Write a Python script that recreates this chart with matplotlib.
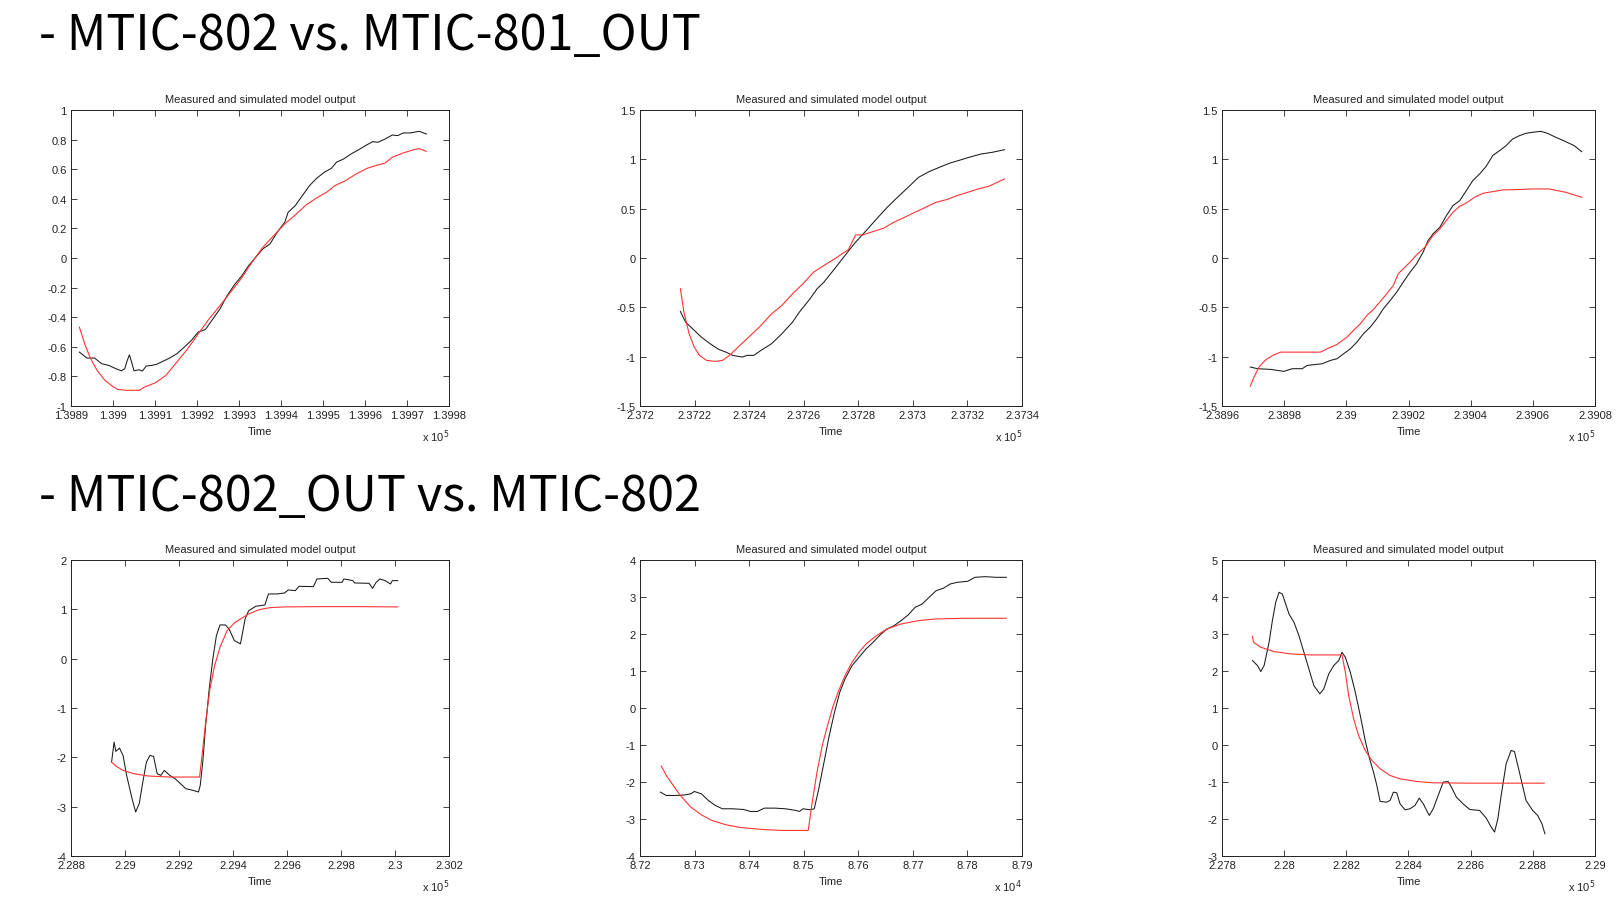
import numpy as np
import matplotlib
matplotlib.use('Agg')
from matplotlib import pyplot as plt
from matplotlib.ticker import FuncFormatter

plt.rcParams['font.family'] = ['Liberation Sans', 'DejaVu Sans']

TITLE = 'Measured and simulated model output'
HEAD1 = '- MTIC-802 vs. MTIC-801_OUT'
HEAD2 = '- MTIC-802_OUT vs. MTIC-802'

# ---- panel 1 : MTIC-802 vs MTIC-801_OUT (a) ----
t1_meas = [139892.0, 139893.8, 139895.6, 139897.3, 139899.0, 139900.7, 139902.0, 139902.8, 139903.3,
           139903.9, 139904.4, 139905.0, 139906.2, 139907.0, 139907.9, 139909.2, 139910.5, 139911.8,
           139913.5, 139915.2, 139916.9, 139918.6, 139920.3, 139922.0, 139923.8, 139925.5, 139927.2,
           139928.9, 139930.6, 139932.3, 139934.0, 139935.7, 139937.4, 139939.1, 139940.9, 139941.7,
           139943.4, 139945.1, 139946.8, 139948.5, 139950.3, 139952.0, 139953.2, 139954.9, 139956.7,
           139958.4, 139960.1, 139961.8, 139963.1, 139964.8, 139966.5, 139967.8, 139969.1, 139970.8,
           139972.9, 139974.6]
y1_meas = [-0.636, -0.676, -0.676, -0.714, -0.726, -0.748, -0.762, -0.748, -0.700,
           -0.654, -0.700, -0.762, -0.755, -0.764, -0.730, -0.726, -0.717, -0.699,
           -0.676, -0.647, -0.604, -0.559, -0.500, -0.483, -0.411, -0.343, -0.253,
           -0.181, -0.123, -0.051, 0.006, 0.062, 0.096, 0.174, 0.242, 0.309,
           0.354, 0.422, 0.489, 0.539, 0.579, 0.606, 0.647, 0.669, 0.703,
           0.730, 0.759, 0.786, 0.782, 0.804, 0.831, 0.827, 0.845, 0.845,
           0.856, 0.838]
t1_sim = [139892.0, 139893.4, 139894.7, 139896.2, 139898.1, 139899.8, 139901.1, 139903.2, 139906.2,
          139907.5, 139910.1, 139912.6, 139915.2, 139917.8, 139920.3, 139922.9, 139925.5, 139928.0,
          139930.6, 139933.2, 139935.7, 139938.3, 139940.9, 139943.4, 139946.0, 139948.5, 139951.1,
          139952.8, 139955.4, 139957.9, 139960.5, 139963.1, 139964.8, 139966.5, 139969.1, 139971.6,
          139972.9, 139974.6]
y1_sim = [-0.467, -0.591, -0.681, -0.759, -0.827, -0.865, -0.888, -0.894, -0.894,
          -0.872, -0.843, -0.793, -0.703, -0.613, -0.512, -0.411, -0.321, -0.231,
          -0.136, -0.024, 0.073, 0.152, 0.231, 0.291, 0.359, 0.406, 0.449,
          0.489, 0.523, 0.568, 0.606, 0.629, 0.642, 0.681, 0.710, 0.732,
          0.739, 0.721]

# ---- panel 2 ----
t2_meas = [237214.8, 237216.7, 237219.9, 237222.5, 237225.7, 237228.9, 237231.5, 237234.0, 237237.5,
           237239.2, 237241.7, 237244.3, 237248.2, 237252.0, 237255.9, 237258.4, 237262.3, 237264.9,
           237267.4, 237271.3, 237275.1, 237279.0, 237282.9, 237286.7, 237290.6, 237294.4, 237298.3,
           237302.1, 237306.0, 237309.8, 237313.7, 237317.5, 237321.4, 237325.2, 237329.1, 237333.6]
y2_meas = [-0.542, -0.650, -0.734, -0.802, -0.869, -0.927, -0.954, -0.987, -1.004,
           -0.987, -0.987, -0.937, -0.869, -0.768, -0.650, -0.549, -0.414, -0.312,
           -0.245, -0.110, 0.025, 0.160, 0.278, 0.396, 0.514, 0.616, 0.717,
           0.818, 0.876, 0.920, 0.963, 0.994, 1.027, 1.055, 1.071, 1.098]
t2_sim = [237214.8, 237216.1, 237218.0, 237219.9, 237221.8, 237224.4, 237227.6, 237230.2, 237232.8,
          237236.6, 237240.5, 237244.3, 237248.2, 237252.0, 237255.9, 237259.7, 237263.6, 237267.4,
          237271.3, 237276.4, 237278.0, 237279.0, 237281.6, 237285.4, 237289.3, 237293.1, 237297.0,
          237300.8, 237304.7, 237308.5, 237312.4, 237316.3, 237320.1, 237324.0, 237327.8, 237331.0,
          237333.6]
y2_sim = [-0.312, -0.549, -0.768, -0.903, -0.987, -1.038, -1.048, -1.038, -0.987,
          -0.886, -0.785, -0.684, -0.566, -0.481, -0.363, -0.262, -0.144, -0.076,
          -0.009, 0.086, 0.177, 0.234, 0.234, 0.268, 0.302, 0.363, 0.413,
          0.464, 0.514, 0.565, 0.592, 0.633, 0.666, 0.700, 0.727, 0.768,
          0.801]

# ---- panel 3 ----
t3_meas = [238969.1, 238971.4, 238975.7, 238979.9, 238982.6, 238985.8, 238987.4, 238992.2, 238994.9,
           238997.0, 238999.1, 239001.3, 239003.4, 239005.5, 239007.7, 239009.8, 239011.9, 239014.1,
           239016.2, 239018.3, 239020.5, 239022.6, 239024.7, 239026.3, 239027.9, 239030.1, 239032.2,
           239034.3, 239036.5, 239038.6, 239040.7, 239042.9, 239045.0, 239047.1, 239049.3, 239051.4,
           239053.5, 239055.7, 239057.8, 239059.9, 239062.6, 239064.7, 239067.4, 239070.6, 239073.3,
           239075.7]
y3_meas = [-1.105, -1.122, -1.129, -1.149, -1.122, -1.122, -1.089, -1.072, -1.038,
           -1.021, -0.971, -0.920, -0.852, -0.768, -0.700, -0.616, -0.515, -0.430,
           -0.346, -0.245, -0.144, -0.059, 0.059, 0.177, 0.245, 0.312, 0.430,
           0.531, 0.582, 0.683, 0.785, 0.852, 0.930, 1.038, 1.088, 1.139,
           1.206, 1.240, 1.264, 1.274, 1.284, 1.264, 1.223, 1.179, 1.139,
           1.078]
t3_sim = [238969.1, 238970.3, 238971.9, 238974.1, 238976.7, 238978.9, 238983.1, 238987.4, 238991.7,
          238993.8, 238997.0, 239000.2, 239002.3, 239004.5, 239006.6, 239008.7, 239010.9, 239013.0,
          239015.1, 239016.7, 239018.3, 239020.5, 239022.6, 239025.3, 239027.9, 239030.1, 239032.2,
          239034.3, 239036.5, 239038.6, 239041.3, 239044.0, 239047.1, 239050.3, 239054.6, 239059.9,
          239065.2, 239070.6, 239075.7]
y3_sim = [-1.298, -1.207, -1.105, -1.031, -0.981, -0.954, -0.954, -0.954, -0.954,
          -0.920, -0.876, -0.802, -0.734, -0.667, -0.582, -0.522, -0.441, -0.363,
          -0.279, -0.160, -0.110, -0.042, 0.032, 0.110, 0.228, 0.295, 0.380,
          0.464, 0.525, 0.558, 0.616, 0.656, 0.673, 0.690, 0.693, 0.700,
          0.700, 0.666, 0.616]

# ---- panel 4 : MTIC-802_OUT vs MTIC-802 (a) ----
t4_meas = [228950.3, 228959.6, 228966.2, 228979.5, 228992.8, 229006.1, 229026.1, 229039.4, 229052.7,
           229066.0, 229079.3, 229092.6, 229105.9, 229119.1, 229132.4, 229145.7, 229165.7, 229185.6,
           229205.6, 229225.5, 229252.1, 229272.1, 229278.7, 229288.0, 229298.7, 229312.0, 229325.3,
           229338.6, 229351.9, 229371.8, 229385.1, 229405.1, 229427.7, 229444.9, 229458.2, 229484.8,
           229518.1, 229531.4, 229564.6, 229591.2, 229604.5, 229631.1, 229644.4, 229697.6, 229710.9,
           229750.8, 229764.1, 229804.0, 229810.6, 229843.9, 229850.5, 229903.7, 229917.0, 229930.3,
           229943.6, 229963.6, 229983.5, 229990.2, 230010.1]
y4_meas = [-2.096, -1.691, -1.880, -1.812, -1.961, -2.366, -2.838, -3.108, -2.939,
           -2.501, -2.096, -1.961, -1.981, -2.332, -2.366, -2.265, -2.366, -2.433,
           -2.534, -2.636, -2.669, -2.703, -2.568, -2.096, -1.354, -0.611, -0.004,
           0.468, 0.684, 0.684, 0.603, 0.367, 0.300, 0.806, 0.974, 1.062,
           1.089, 1.312, 1.312, 1.332, 1.393, 1.379, 1.467, 1.460, 1.615,
           1.629, 1.548, 1.548, 1.615, 1.582, 1.534, 1.528, 1.426, 1.548,
           1.615, 1.582, 1.514, 1.582, 1.582]
t4_sim = [228950.3, 228966.2, 228992.8, 229032.7, 229085.9, 229165.7, 229245.5, 229276.1, 229285.4,
          229298.7, 229314.6, 229332.0, 229351.9, 229378.5, 229405.1, 229431.7, 229458.2, 229498.1,
          229538.0, 229591.2, 229724.2, 229857.2, 230010.1]
y4_sim = [-2.096, -2.177, -2.265, -2.332, -2.379, -2.399, -2.399, -2.399, -1.961,
          -1.286, -0.611, -0.139, 0.232, 0.570, 0.725, 0.819, 0.907, 0.995,
          1.035, 1.049, 1.055, 1.055, 1.049]

# ---- panel 5 ----
t5_meas = [87237.3, 87248.2, 87267.4, 87283.5, 87293.1, 87299.6, 87312.4, 87325.2, 87338.1,
           87350.9, 87370.2, 87389.5, 87402.3, 87415.2, 87428.0, 87447.3, 87466.6, 87485.9,
           87492.2, 87498.7, 87511.6, 87519.3, 87527.6, 87537.2, 87546.8, 87556.5, 87566.1,
           87575.7, 87588.6, 87601.4, 87614.3, 87627.2, 87640.0, 87652.8, 87665.7, 87678.5,
           87691.4, 87704.2, 87717.1, 87729.9, 87742.8, 87755.6, 87768.5, 87781.3, 87800.6,
           87813.5, 87832.7, 87852.0, 87871.2]
y5_meas = [-2.274, -2.364, -2.364, -2.346, -2.319, -2.256, -2.319, -2.499, -2.634,
           -2.724, -2.724, -2.742, -2.796, -2.796, -2.706, -2.706, -2.724, -2.769,
           -2.796, -2.724, -2.751, -2.724, -2.184, -1.464, -0.743, -0.113, 0.427,
           0.787, 1.147, 1.372, 1.597, 1.777, 1.975, 2.137, 2.227, 2.362,
           2.515, 2.722, 2.812, 2.992, 3.172, 3.235, 3.352, 3.397, 3.424,
           3.532, 3.550, 3.532, 3.532]
t5_sim = [87239.2, 87248.2, 87261.0, 87273.9, 87293.1, 87312.4, 87331.7, 87357.4, 87383.0,
          87408.7, 87434.4, 87460.1, 87485.9, 87508.3, 87514.7, 87524.3, 87534.0, 87543.6,
          87553.2, 87562.9, 87575.7, 87588.6, 87601.4, 87614.3, 87633.5, 87652.8, 87678.5,
          87710.6, 87742.8, 87794.2, 87871.2]
y5_sim = [-1.572, -1.824, -2.094, -2.364, -2.679, -2.886, -3.039, -3.156, -3.228,
          -3.264, -3.291, -3.309, -3.309, -3.309, -2.634, -1.734, -1.014, -0.473,
          0.022, 0.427, 0.877, 1.237, 1.507, 1.732, 1.957, 2.137, 2.272,
          2.362, 2.407, 2.425, 2.425]

# ---- panel 6 ----
t6_meas = [227898.1, 227914.1, 227924.8, 227935.5, 227951.5, 227962.1, 227972.8, 227983.5, 227994.1,
           228004.8, 228015.5, 228031.5, 228047.5, 228063.5, 228079.5, 228095.5, 228114.7, 228127.5,
           228143.5, 228159.5, 228175.5, 228186.1, 228196.8, 228212.8, 228228.8, 228244.8, 228260.8,
           228274.7, 228287.5, 228298.1, 228308.8, 228330.1, 228340.8, 228351.5, 228362.1, 228372.8,
           228388.8, 228404.8, 228420.8, 228434.7, 228447.5, 228466.7, 228479.5, 228495.5, 228511.5,
           228527.5, 228538.1, 228554.1, 228575.5, 228596.8, 228628.8, 228650.1, 228666.1, 228676.8,
           228687.5, 228698.1, 228714.1, 228730.1, 228740.8, 228756.8, 228778.1, 228799.5, 228815.5,
           228829.3, 228838.9]
y6_meas = [2.282, 2.147, 1.985, 2.147, 2.777, 3.362, 3.857, 4.127, 4.082,
           3.812, 3.542, 3.317, 2.957, 2.507, 2.057, 1.607, 1.382, 1.517,
           1.922, 2.147, 2.282, 2.507, 2.372, 1.967, 1.427, 0.797, 0.122,
           -0.373, -0.734, -1.094, -1.526, -1.544, -1.499, -1.274, -1.292, -1.589,
           -1.751, -1.724, -1.634, -1.436, -1.589, -1.904, -1.724, -1.364, -1.004,
           -0.986, -1.139, -1.409, -1.589, -1.742, -1.769, -1.976, -2.219, -2.354,
           -1.994, -1.364, -0.509, -0.148, -0.175, -0.734, -1.499, -1.769, -1.904,
           -2.129, -2.399]
t6_sim = [227898.1, 227901.3, 227924.8, 227967.5, 228020.8, 228084.8, 228159.5, 228186.1, 228196.8,
          228207.5, 228223.5, 228239.5, 228260.8, 228282.1, 228308.8, 228340.8, 228372.8, 228426.1,
          228479.5, 228586.1, 228692.8, 228836.8]
y6_sim = [2.939, 2.777, 2.642, 2.525, 2.462, 2.435, 2.435, 2.435, 1.967,
          1.337, 0.707, 0.257, -0.148, -0.418, -0.643, -0.824, -0.914, -0.986,
          -1.022, -1.031, -1.031, -1.031]

# panel settings: data, time exponent, x range, n x ticks, y range, n y ticks
panels = [
    (t1_meas, y1_meas, t1_sim, y1_sim, 5, (1.3989, 1.3998), 10, (-1, 1), 11),
    (t2_meas, y2_meas, t2_sim, y2_sim, 5, (2.3720, 2.3734), 8, (-1.5, 1.5), 7),
    (t3_meas, y3_meas, t3_sim, y3_sim, 5, (2.3896, 2.3908), 7, (-1.5, 1.5), 7),
    (t4_meas, y4_meas, t4_sim, y4_sim, 5, (2.288, 2.302), 8, (-4, 2), 7),
    (t5_meas, y5_meas, t5_sim, y5_sim, 4, (8.72, 8.79), 8, (-4, 4), 9),
    (t6_meas, y6_meas, t6_sim, y6_sim, 5, (2.278, 2.290), 7, (-3, 5), 9),
]

W, H = 1624, 904
fig = plt.figure(figsize=(W / 100, H / 100), dpi=100)

# axes boxes in pixels (left, top)
lefts = [71, 640, 1222]
widths = [378, 382, 373]
tops = [111, 561]
ah = 296


def fmt(v, pos):
    if abs(v) < 1e-9:
        return '0'
    return '%g' % round(v, 6)


for i, (tm, ym, ts, ys, ex, xr, nx, yr, ny) in enumerate(panels):
    l = lefts[i % 3]
    aw = widths[i % 3]
    tp = tops[i // 3]
    ax = fig.add_axes([l / W, 1 - (tp + ah) / H, aw / W, ah / H])
    sc = 10.0 ** ex
    ax.plot(np.array(tm) / sc, ym, color='#1a1a1a', lw=0.75)
    ax.plot(np.array(ts) / sc, ys, color='#ff3333', lw=0.8)
    ax.set_xlim(*xr)
    ax.set_ylim(*yr)
    ax.set_xticks(np.linspace(xr[0], xr[1], nx))
    ax.set_yticks(np.linspace(yr[0], yr[1], ny))
    ax.xaxis.set_major_formatter(FuncFormatter(fmt))
    ax.yaxis.set_major_formatter(FuncFormatter(fmt))
    ax.tick_params(direction='in', top=True, right=True, length=4, width=0.6,
                   labelsize=8, pad=3, colors='#222222')
    for s in ax.spines.values():
        s.set_linewidth(0.7)
        s.set_color('#222222')
    ax.set_title(TITLE, fontsize=8, pad=6, color='#222222')
    ax.set_xlabel('Time', fontsize=8, labelpad=4.5, color='#222222')
    ax.text(1.0, -0.118, 'x 10$^{%d}$' % ex, transform=ax.transAxes,
            ha='right', va='baseline', fontsize=8, color='#222222')

head_font = ['Noto Sans CJK KR', 'DejaVu Sans']
fig.text(39 / W, 1 - 50 / H, HEAD1, fontsize=35, va='baseline', ha='left',
         family=head_font)
fig.text(39 / W, 1 - 511 / H, HEAD2, fontsize=35, va='baseline', ha='left',
         family=head_font)

fig.savefig('out.png', dpi=100)
